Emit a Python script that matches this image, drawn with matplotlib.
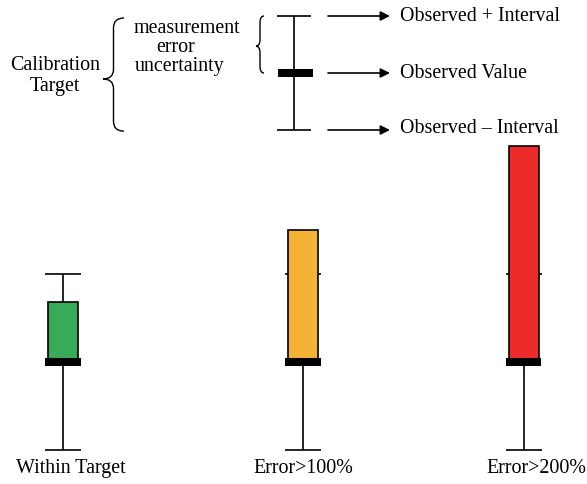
import matplotlib.pyplot as plt
import numpy as np
from matplotlib.path import Path
from matplotlib.patches import PathPatch

plt.rcParams['font.family'] = ['Liberation Serif', 'DejaVu Serif']

# data
categories = ['Within Target', 'Error>100%', 'Error>200%']
positions = [0.0, 1.0, 1.92]
observed = [0.0, 0.0, 0.0]
interval = [1.0, 1.0, 1.0]
target_top = [0.68, 1.5, 2.455]
colors = ['#39aa5a', '#f4b336', '#ee2b2b']

key_obs = 0.0
key_interval = 1.0
key_labels = ['Observed + Interval', 'Observed Value', 'Observed \u2013 Interval']

fs = 14.4
lw = 1.2

fig = plt.figure(figsize=(5.87, 4.85), dpi=100)

# ---- bottom: the three cases
ax = fig.add_axes([0, 0, 1, 345 / 485])
ax.set_xlim(-0.2625, 2.1833)
ax.set_ylim(-1.386, 2.534)
ax.axis('off')

obs = np.array(observed)
pos = np.array(positions)
ax.errorbar(pos, obs, yerr=interval, fmt='none', ecolor='black',
            elinewidth=lw, capsize=13, capthick=lw, zorder=1)
ax.bar(pos, np.array(target_top) - obs, bottom=obs, width=0.125,
       color=colors, edgecolor='black', linewidth=lw, zorder=2)
ax.hlines(obs, pos - 0.073, pos + 0.073, colors='black', linewidth=5.8, zorder=3)

label_dx = [8, 0, 13]  # px
for p, lab, dx in zip(pos, categories, label_dx):
    ax.annotate(lab, xy=(p, -1.193), xytext=(dx * 0.72, 0), textcoords='offset points',
                ha='center', va='center', fontsize=fs)

# ---- top: the key
kx = fig.add_axes([0, 345 / 485, 1, 140 / 485])
kx.set_xlim(0, 587)
kx.set_ylim(-66 / 57, 74 / 57)
kx.axis('off')

kxc = 294
kx.errorbar([kxc], [key_obs], yerr=[key_interval], fmt='none', ecolor='black',
            elinewidth=lw, capsize=12.5, capthick=lw)
kx.hlines(key_obs, kxc - 16, kxc + 19, colors='black', linewidth=5.8, zorder=3)

key_y = [key_obs + key_interval, key_obs, key_obs - key_interval]
for y, lab in zip(key_y, key_labels):
    kx.annotate('', xy=(390, y), xytext=(328, y),
                arrowprops=dict(arrowstyle='-|>', color='black', lw=lw,
                                mutation_scale=14, shrinkA=0, shrinkB=0))
    kx.text(400, y + (0.04 if y < 0 else 0), lab, ha='left', va='center', fontsize=fs)


def brace(ax, x, w, ytop, ybot, ymid, r):
    xm = x + w / 2
    verts = [(x + w, ytop), (xm, ytop), (xm, ytop - r),
             (xm, ymid + r),
             (xm, ymid), (x, ymid),
             (xm, ymid), (xm, ymid - r),
             (xm, ybot + r),
             (xm, ybot), (x + w, ybot)]
    codes = [Path.MOVETO, Path.CURVE3, Path.CURVE3,
             Path.LINETO,
             Path.CURVE3, Path.CURVE3,
             Path.CURVE3, Path.CURVE3,
             Path.LINETO,
             Path.CURVE3, Path.CURVE3]
    ax.add_patch(PathPatch(Path(verts, codes), fill=False, lw=1.0, color='black'))


brace(kx, 103, 21, key_obs + 0.965 * key_interval, key_obs - 1.02 * key_interval,
      key_obs - 0.105, 0.17)
brace(kx, 256, 8, key_obs + key_interval, key_obs, key_obs + 0.47, 0.12)

kx.text(55, -0.035, 'Calibration\nTarget', ha='center', va='center', fontsize=fs,
        linespacing=1.15)
kx.text(187, 0.80, 'measurement', ha='center', va='center', fontsize=fs)
kx.text(176, 0.47, 'error', ha='center', va='center', fontsize=fs)
kx.text(180, 0.14, 'uncertainty', ha='center', va='center', fontsize=fs)

fig.savefig('out.png', dpi=100)
